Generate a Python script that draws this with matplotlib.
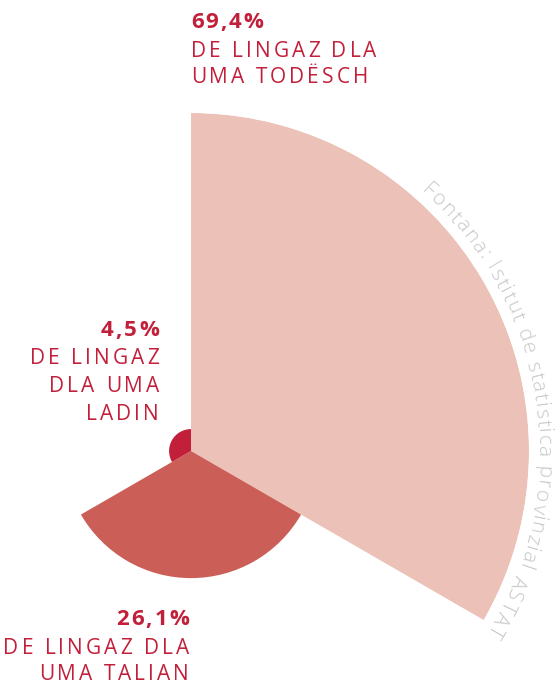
import numpy as np
import matplotlib
matplotlib.use('Agg')
import matplotlib.pyplot as plt
from matplotlib import font_manager, ft2font

# shares of the population by language group (%)
groups = ['todësch', 'talian', 'ladin']
shares = [69.4, 26.1, 4.5]
colors = ['#ecc1b7', '#cb5f58', '#c21f3a']
source = 'Fontana: Istitut de statistica provinzial ASTAT'

W, H = 559, 683
cx, cy = 191, 451      # centre of the rose, px from top-left
rpx = 338              # radius in px of the biggest wedge
DPI = 100

plt.rcParams['font.family'] = ['Open Sans', 'DejaVu Sans']
fig = plt.figure(figsize=(W / DPI, H / DPI), dpi=DPI)

ax = fig.add_axes([(cx - rpx) / W, (H - cy - rpx) / H, 2 * rpx / W, 2 * rpx / H],
                  projection='polar')
ax.set_theta_zero_location('N')
ax.set_theta_direction(-1)
width = 2 * np.pi / len(shares)
theta = np.arange(len(shares)) * width + width / 2
ax.bar(theta, shares, width=width, color=colors, edgecolor='none', linewidth=0)
ax.set_ylim(0, max(shares))
ax.axis('off')

red = '#c21f3a'


def advances(txt, size, weight):
    # glyph advances in px, so letters can be spaced out by hand
    path = font_manager.findfont(font_manager.FontProperties(family='Open Sans', weight=weight))
    f = ft2font.FT2Font(path)
    f.set_size(size, DPI)
    return [f.load_char(ord(c)).linearHoriAdvance / 65536 for c in txt]


def tracked(x, yb, txt, ha, size, weight, track):
    adv = advances(txt, size, weight)
    total = sum(adv) + track * (len(txt) - 1)
    pos = x - total if ha == 'right' else x
    for c, a in zip(txt, adv):
        fig.text(pos / W, 1 - yb / H, c, ha='left', va='baseline', color=red,
                 fontsize=size, fontweight=weight)
        pos += a + track


def label(x, baselines, lines, ha):
    for i, (yb, txt) in enumerate(zip(baselines, lines)):
        if i == 0:
            tracked(x, yb, txt, ha, 16, 'bold', 2.0)
        else:
            tracked(x, yb, txt, ha, 15, 'normal', 3.0)


label(191, [28, 57, 83], ['69,4%', 'DE LINGAZ DLA', 'UMA TODËSCH'], 'left')
label(159, [336, 364, 392, 420], ['4,5%', 'DE LINGAZ', 'DLA UMA', 'LADIN'], 'right')
label(189, [625, 654, 680], ['26,1%', 'DE LINGAZ DLA', 'UMA TALIAN'], 'right')

# source text bent along the outer arc
R = 347.0
fs = 15
trk = 1.5
phi = np.radians(41.5)
for ch, a in zip(source, advances(source, fs, 'light')):
    mid = phi + (a / 2) / R
    ax.text(mid, R / rpx * max(shares), ch, rotation=-np.degrees(mid),
            rotation_mode='anchor', ha='center', va='baseline',
            fontsize=fs, fontweight='light', color='#c8c8c8', clip_on=False)
    phi += (a + trk) / R

fig.savefig('out.png', dpi=DPI)
